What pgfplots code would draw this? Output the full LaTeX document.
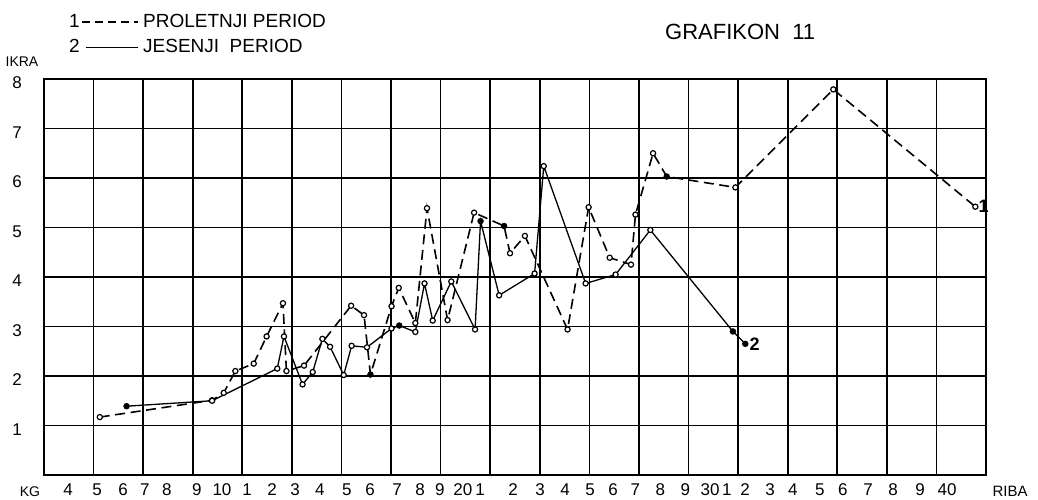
\documentclass[border=0pt]{standalone}
\usepackage{pgfplots}
\usepackage{pgfplotstable}
\pgfplotsset{compat=1.18}
\usepackage{fontspec}
\setmainfont{Liberation Sans}

% c = 0: open circle, c = 1: filled circle
\pgfplotstableread{
x y c
5.25 1.17 0
9.78 1.51 0
10.25 1.66 0
10.72 2.10 0
11.46 2.25 0
11.98 2.80 0
12.64 3.47 0
12.78 2.10 0
13.49 2.21 0
15.39 3.42 0
15.91 3.23 0
16.17 2.03 1
17.02 3.41 0
17.31 3.78 0
17.98 3.07 0
18.45 5.39 0
19.28 3.13 0
20.35 5.30 0
21.56 5.03 1
21.80 4.48 0
22.40 4.83 0
24.12 2.94 0
24.97 5.41 0
25.82 4.39 0
26.68 4.25 0
26.86 5.26 0
27.57 6.50 0
28.12 6.03 1
30.89 5.81 0
34.84 7.79 0
40.57 5.42 0
}\proletni

\pgfplotstableread{
x y c
6.33 1.39 1
9.78 1.50 0
12.41 2.15 0
12.68 2.80 0
13.43 1.83 0
13.84 2.08 0
14.23 2.75 0
14.54 2.59 0
15.09 2.02 0
15.41 2.61 0
16.03 2.58 0
17.02 2.96 0
17.33 3.02 1
17.98 2.89 0
18.35 3.87 0
18.68 3.12 0
19.43 3.91 0
20.39 2.94 0
20.61 5.13 1
21.36 3.63 0
22.79 4.07 0
23.16 6.24 0
24.85 3.87 0
26.06 4.05 0
27.46 4.95 0
30.79 2.90 1
31.29 2.65 1
}\jesenji

\begin{document}
\begin{tikzpicture}
\begin{axis}[
  scale only axis, width=471pt, height=198pt,
  xmin=3, xmax=41, ymin=0, ymax=8,
  clip=false,
  axis line style={line width=0.9pt},
  major tick length=0pt, minor tick length=0pt,
  xtick={3.97,5.14,6.19,7.07,7.96,9.17,10.18,11.19,12.2,13.13,14.13,15.22,16.15,17.24,18.17,18.97,19.9,20.59,21.92,23.01,24.02,25.03,25.96,26.85,27.86,28.87,29.87,30.55,31.28,32.29,33.21,34.3,35.23,36.24,37.25,38.34,39.43},
  xticklabels={4,5,6,7,8,9,10,1,2,3,4,5,6,7,8,9,20,1,2,3,4,5,6,7,8,9,30,1,2,3,4,5,6,7,8,9,40},
  xticklabel style={anchor=center, inner sep=0pt, yshift=-7.5pt, font=\fontsize{8.5}{9}\selectfont},
  minor xtick={5,7,...,39},
  xminorgrids=true,
  ytick={1,...,8},
  ymajorgrids=true,
  /pgf/number format/assume math mode=true,
  yticklabel style={anchor=center, inner sep=0pt, xshift=-13.5pt, yshift=-2pt, font=\fontsize{8.5}{9}\selectfont},
  grid style={black, line width=0.85pt},
  minor grid style={black, line width=0.85pt},
  legend style={at={(rel axis cs:0.024,1.175)}, anchor=north west, draw=none, fill=none,
    inner sep=0pt, row sep=0.5pt, font=\fontsize{9.5}{11}\selectfont,
    /tikz/every even column/.append style={column sep=5pt}},
  legend cell align=left,
  colormap={openfilled}{color(0)=(white) color(1)=(black)},
  point meta min=0, point meta max=1,
]
\addplot[black, line width=0.8pt, dash pattern=on 5pt off 2.8pt,
  scatter, point meta=explicit, mark=*, mark size=1.3pt, mark options={solid, line width=0.6pt},
  scatter/use mapped color={draw=black, fill=mapped color},
  legend image code/.code={\draw[line width=0.8pt, dash pattern=on 4pt off 2.5pt] (0pt,0pt) -- (28pt,0pt);
    \node[anchor=east, inner sep=1pt] at (0pt,0pt) {1};}]
  table[x=x, y=y, meta=c] {\proletni};
\addlegendentry{PROLETNJI PERIOD}
\addplot[black, line width=0.65pt, solid,
  scatter, point meta=explicit, mark=*, mark size=1.3pt, mark options={solid, line width=0.6pt},
  scatter/use mapped color={draw=black, fill=mapped color},
  legend image code/.code={\draw[line width=0.8pt] (2pt,0pt) -- (28pt,0pt);
    \node[anchor=east, inner sep=1pt] at (0pt,0pt) {2};}]
  table[x=x, y=y, meta=c] {\jesenji};
\addlegendentry{JESENJI\ \ PERIOD}

\node[anchor=west, font=\fontsize{9}{10}\selectfont\bfseries, inner sep=1.5pt] at (axis cs:40.57,5.42) {1};
\node[anchor=west, font=\fontsize{9}{10}\selectfont\bfseries, inner sep=2pt] at (axis cs:31.29,2.65) {2};
\node[font=\fontsize{7}{8}\selectfont] at (rel axis cs:-0.0234,1.043) {IKRA};
\node[font=\fontsize{7}{8}\selectfont] at (rel axis cs:-0.0149,-0.043) {KG};
\node[font=\fontsize{7.5}{8}\selectfont] at (rel axis cs:1.0255,-0.04) {RIBA};
\node[font=\fontsize{11}{12}\selectfont] at (rel axis cs:0.739,1.119) {GRAFIKON\ \ 11};

\coordinate (bl) at (rel axis cs:-0.0467,-0.0631);
\coordinate (tr) at (rel axis cs:1.0552,1.1995);
\end{axis}
\pgfresetboundingbox
\path[use as bounding box] (bl) rectangle (tr);
\end{tikzpicture}
\end{document}
